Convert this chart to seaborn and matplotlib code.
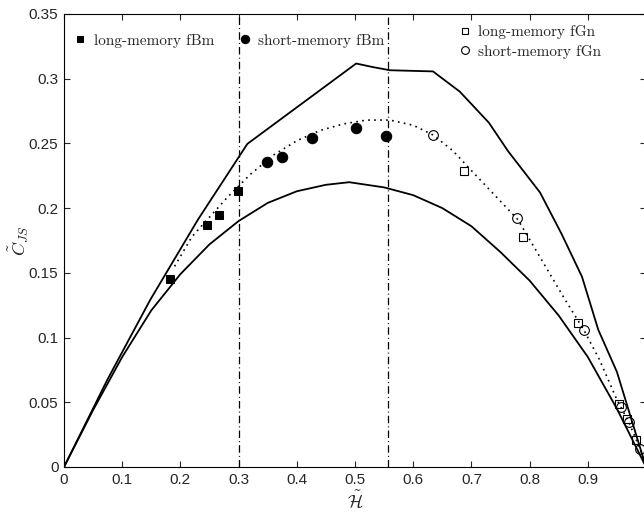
import numpy as np
import pandas as pd
import matplotlib
matplotlib.use("Agg")
import matplotlib.pyplot as plt
import seaborn as sns

# curves
h_min = [0.0, 0.05, 0.1, 0.15, 0.2, 0.25, 0.3, 0.35, 0.4, 0.45, 0.49, 0.55, 0.6,
         0.65, 0.7, 0.75, 0.8, 0.85, 0.9, 0.95, 1.0]
c_min = [0.0, 0.044, 0.085, 0.121, 0.149, 0.172, 0.190, 0.204, 0.213, 0.218, 0.220,
         0.216, 0.210, 0.200, 0.186, 0.166, 0.144, 0.117, 0.085, 0.045, 0.0]

h_max = [0.0, 0.074, 0.148, 0.23, 0.315, 0.502, 0.53, 0.56, 0.634, 0.68, 0.73,
         0.763, 0.818, 0.855, 0.89, 0.918, 0.95, 1.0]
c_max = [0.0, 0.067, 0.129, 0.191, 0.2496, 0.3117, 0.309, 0.3065, 0.3056, 0.29,
         0.266, 0.244, 0.212, 0.18, 0.147, 0.106, 0.0735, 0.0]

h_theo = [0.19, 0.22, 0.25, 0.28, 0.32, 0.36, 0.40, 0.44, 0.48, 0.52, 0.56, 0.60,
          0.634, 0.668, 0.70, 0.74, 0.78, 0.82, 0.86, 0.893, 0.92, 0.95, 0.97, 0.99, 1.0]
c_theo = [0.155, 0.178, 0.193, 0.208, 0.226, 0.241, 0.252, 0.260, 0.265, 0.268, 0.268,
          0.264, 0.2565, 0.2444, 0.229, 0.210, 0.191, 0.1605, 0.130, 0.106, 0.083,
          0.052, 0.035, 0.014, 0.0]

# estimated points
h_lm_fbm = [0.182, 0.246, 0.266, 0.299]
c_lm_fbm = [0.145, 0.1866, 0.1948, 0.213]
h_sm_fbm = [0.349, 0.375, 0.426, 0.501, 0.553]
c_sm_fbm = [0.2354, 0.2393, 0.254, 0.262, 0.256]
h_lm_fgn = [0.687, 0.788, 0.883, 0.954, 0.968, 0.982]
c_lm_fgn = [0.2285, 0.1776, 0.111, 0.049, 0.037, 0.021]
h_sm_fgn = [0.634, 0.779, 0.894, 0.957, 0.970, 0.990]
c_sm_fgn = [0.2565, 0.192, 0.106, 0.046, 0.035, 0.014]

h_bounds = [0.3, 0.557]

sns.set_style("ticks")
plt.rcParams.update({
    "font.family": ["Liberation Sans", "DejaVu Sans"],
    "mathtext.fontset": "cm",
    "xtick.direction": "in",
    "ytick.direction": "in",
    "xtick.top": True,
    "ytick.right": True,
    "xtick.major.size": 4,
    "ytick.major.size": 4,
    "axes.linewidth": 0.8,
    "axes.edgecolor": "black",
})

fig = plt.figure(figsize=(6.44, 5.16), dpi=100)
ax = fig.add_axes([0.0994, 0.095, 0.9037, 0.878])

sns.lineplot(x=h_min, y=c_min, color="k", lw=1.3, estimator=None, sort=False, ax=ax)
sns.lineplot(x=h_max, y=c_max, color="k", lw=1.3, estimator=None, sort=False, ax=ax)
sns.lineplot(x=h_theo, y=c_theo, color="k", lw=1.2, linestyle=(0, (1, 2.6)),
             estimator=None, sort=False, ax=ax)
for hb in h_bounds:
    ax.axvline(hb, color="k", lw=0.9, linestyle=(0, (6, 2.5, 0.8, 2.5)))

sns.lineplot(x=h_lm_fbm, y=c_lm_fbm, linestyle="", marker="s", color="k", markersize=6,
             markeredgecolor="k", estimator=None, ax=ax, label="long-memory fBm")
sns.lineplot(x=h_sm_fbm, y=c_sm_fbm, linestyle="", marker="o", color="k", markersize=7.5,
             markeredgecolor="k", estimator=None, ax=ax, label="short-memory fBm")
sns.lineplot(x=h_lm_fgn, y=c_lm_fgn, linestyle="", marker="s", color="k", markersize=6,
             markerfacecolor="none", markeredgecolor="k", markeredgewidth=0.8,
             estimator=None, ax=ax, label="long-memory fGn")
sns.lineplot(x=h_sm_fgn, y=c_sm_fgn, linestyle="", marker="o", color="k", markersize=7,
             markerfacecolor="none", markeredgecolor="k", markeredgewidth=0.8,
             estimator=None, ax=ax, label="short-memory fGn")

handles, labels = ax.get_legend_handles_labels()
leg1 = ax.legend(handles[:2], labels[:2], loc="upper left", ncol=2, frameon=False,
                 prop={"family": "cmr10", "size": 11}, handlelength=0.6,
                 handletextpad=0.6, columnspacing=1.7, markerscale=0.8,
                 bbox_to_anchor=(-0.004, 0.987))
ax.add_artist(leg1)
ax.legend(handles[2:], labels[2:], loc="upper left", frameon=False,
          prop={"family": "cmr10", "size": 11}, handlelength=0.6, handletextpad=0.6,
          labelspacing=0.35, markerscale=0.8, bbox_to_anchor=(0.657, 1.005))

ax.set_xlim(0, 1)
ax.set_ylim(0, 0.35)
ax.set_xticks(np.arange(0, 1.0, 0.1))
ax.set_xticklabels(["0", "0.1", "0.2", "0.3", "0.4", "0.5", "0.6", "0.7", "0.8", "0.9"])
ax.set_yticks(np.arange(0, 0.351, 0.05))
ax.set_yticklabels(["0", "0.05", "0.1", "0.15", "0.2", "0.25", "0.3", "0.35"])
ax.tick_params(labelsize=11, width=0.8, pad=4)
ax.set_xlabel(r"$\tilde{\mathcal{H}}$", fontsize=13, labelpad=3)
ax.set_ylabel(r"$\tilde{C}_{JS}$", fontsize=13)
ax.yaxis.set_label_coords(-0.057, 0.5)

fig.savefig("out.png", dpi=100)
